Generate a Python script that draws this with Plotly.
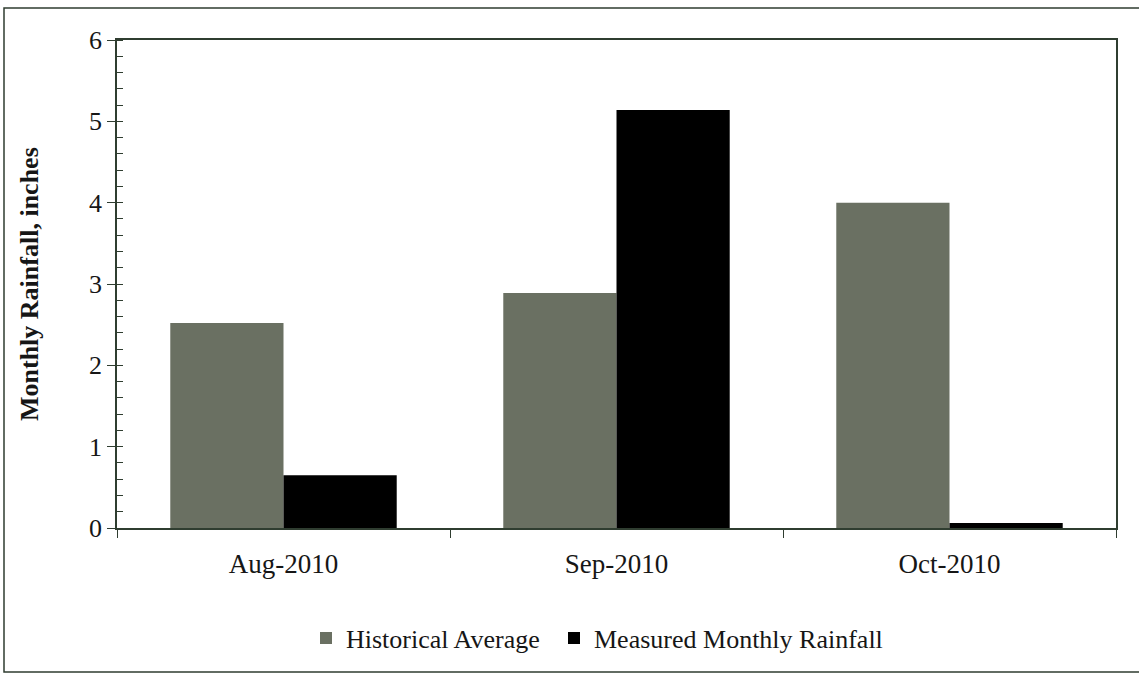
import plotly.graph_objects as go

months = ["Aug-2010", "Sep-2010", "Oct-2010"]
historical = [2.52, 2.89, 4.00]
measured = [0.65, 5.14, 0.06]

W, H = 1139, 675
L, R, T, B = 117, 1116, 40, 528

font_family = "Liberation Serif, Times New Roman, serif"
line_col = "#2f3d30"

fig = go.Figure()
fig.add_trace(go.Bar(name="Historical Average", x=months, y=historical,
                     marker=dict(color="#6a7062", line=dict(width=0)), legend="legend"))
fig.add_trace(go.Bar(name="Measured Monthly Rainfall", x=months, y=measured,
                     marker=dict(color="#000000", line=dict(width=0)), legend="legend2"))

pw = R - L
ph = B - T
def px_x(x):
    return (x - L) / pw
def px_y(y):
    return (B - y) / ph

legend_common = dict(orientation="h", xanchor="left", y=px_y(638), yanchor="middle",
                     font=dict(size=26), itemsizing="constant", itemwidth=30,
                     bgcolor="rgba(0,0,0,0)")

fig.update_layout(
    width=W, height=H,
    margin=dict(l=L, r=W - R, t=T, b=H - B, autoexpand=False),
    paper_bgcolor="white", plot_bgcolor="white",
    barmode="group", bargap=0.32, bargroupgap=0,
    font=dict(family=font_family, size=26, color="#161616"),
    showlegend=True,
    legend=dict(x=px_x(306), **legend_common),
    legend2=dict(x=px_x(554), **legend_common),
    shapes=[dict(type="rect", xref="paper", yref="paper",
                 x0=px_x(4), x1=px_x(1150), y0=px_y(672), y1=px_y(8),
                 line=dict(color=line_col, width=1.5), layer="below")],
    annotations=[dict(text="<b>Monthly Rainfall, inches</b>", xref="paper", yref="paper",
                      x=px_x(29), y=0.5, xanchor="center", yanchor="middle",
                      textangle=-90, showarrow=False, font=dict(size=26))],
    yaxis2=dict(overlaying="y", matches="y", side="left", range=[0, 6], dtick=1,
                ticks="inside", ticklen=8, tickcolor=line_col, showticklabels=False,
                showline=False, showgrid=False, zeroline=False),
)

fig.update_xaxes(
    type="category", showline=True, linecolor=line_col, linewidth=1.5, mirror=True,
    ticks="outside", tickson="boundaries", ticklen=8, tickcolor=line_col,
    showgrid=False, tickfont=dict(size=27), ticklabelstandoff=11,
)
fig.update_yaxes(
    range=[0, 6], dtick=1, showline=True, linecolor=line_col, linewidth=1.5, mirror=True,
    ticks="outside", ticklen=8, tickcolor=line_col, showgrid=False, zeroline=False,
    tickfont=dict(size=26), ticklabelstandoff=0,
    minor=dict(dtick=0.2, ticks="inside", ticklen=6, tickcolor=line_col, showgrid=False),
    automargin=False,
)

fig.write_html("out.html", config={"displayModeBar": False},
               post_script="document.body.style.margin='0';")
